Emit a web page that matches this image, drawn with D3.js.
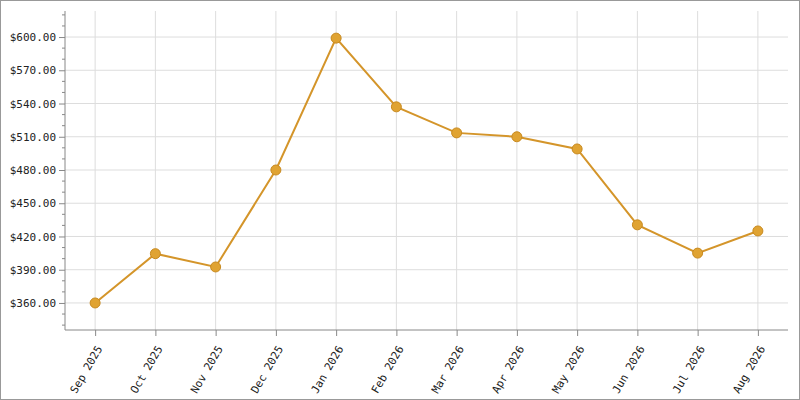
<!DOCTYPE html><html><head><script src="https://cdn.jsdelivr.net/npm/d3@7"></script>
<style>body{margin:0}svg{display:block}</style></head><body><svg id="c" width="800" height="400"></svg><script>
const months=["Sep 2025","Oct 2025","Nov 2025","Dec 2025","Jan 2026","Feb 2026","Mar 2026","Apr 2026","May 2026","Jun 2026","Jul 2026","Aug 2026"];
const prices=[360,404.5,392.5,480,599,537,513.5,510,499,430.5,405,425];
const yTicks=[360,390,420,450,480,510,540,570,600];
const svg=d3.select("#c");
svg.append("rect").attr("x",0.5).attr("y",0.5).attr("width",799).attr("height",399).attr("fill","#fff").attr("stroke","#999");
const L=65,R=788,T=11,B=330;
const x=d3.scalePoint().domain(months).range([L,R]).padding(0.5);
const y=d3.scaleLinear().domain([335.6,623.5]).range([B,T]);
const g=svg.append("g");
g.selectAll(".gx").data(months).join("line").attr("x1",d=>x(d)).attr("x2",d=>x(d)).attr("y1",T).attr("y2",B).attr("stroke","#ddd");
g.selectAll(".gy").data(yTicks).join("line").attr("x1",L).attr("x2",R).attr("y1",d=>y(d)).attr("y2",d=>y(d)).attr("stroke","#ddd");
const font="DejaVu Sans Mono";
const ya=svg.append("g").attr("transform",`translate(${L},0)`).call(d3.axisLeft(y).tickValues(yTicks).tickSize(6).tickFormat(d=>"$"+d3.format(".2f")(d)));
ya.call(g=>g.select(".domain").attr("stroke","#888").attr("d",`M0,${T}V${B}`));
ya.selectAll(".tick line").attr("stroke","#888");
ya.selectAll("text").attr("font-family",font).attr("font-size",11).attr("fill","#222");
const minor=d3.range(340,624,10).filter(v=>v%30!==0);
ya.selectAll(".mn").data(minor).join("line").attr("x1",-3).attr("x2",0).attr("y1",d=>y(d)).attr("y2",d=>y(d)).attr("stroke","#888");
const xa=svg.append("g").attr("transform",`translate(0,${B})`).call(d3.axisBottom(x).tickSize(6));
xa.select(".domain").attr("stroke","#888").attr("d",`M${L},0H${R}`);
xa.selectAll(".tick line").attr("stroke","#888");
xa.selectAll("text").attr("font-family",font).attr("font-size",11).attr("fill","#222").attr("text-anchor","end").attr("dy","0.35em").attr("transform","translate(-4,12) rotate(-60)");
svg.append("path").datum(prices).attr("fill","none").attr("stroke","#d4952a").attr("stroke-width",2)
 .attr("d",d3.line().x((d,i)=>x(months[i])).y(d=>y(d)));
svg.selectAll(".pt").data(prices).join("circle").attr("cx",(d,i)=>x(months[i])).attr("cy",d=>y(d)).attr("r",5).attr("fill","#e0a332").attr("stroke","#c88a20");
</script></body></html>
